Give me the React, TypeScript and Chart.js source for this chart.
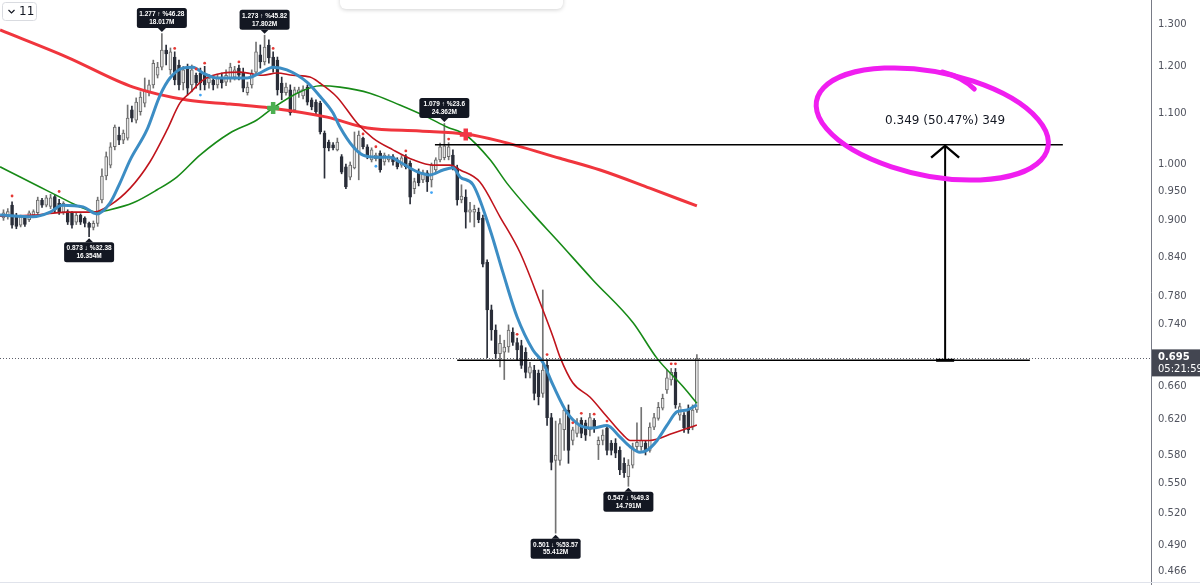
import React, { useEffect, useRef } from "react";
import { Chart, registerables } from "chart.js";

Chart.register(...registerables);

// ---- candle data (one per bar) ----
const opens = [
  0.904, 0.906, 0.926, 0.909, 0.892, 0.904, 0.901, 0.909, 0.913, 0.935,
  0.926, 0.924, 0.941, 0.929, 0.914, 0.915, 0.913, 0.897, 0.909, 0.904,
  0.895, 0.888, 0.895, 0.935, 0.978, 0.998, 1.033, 1.056, 1.046, 1.050,
  1.107, 1.086, 1.103, 1.121, 1.143, 1.160, 1.181, 1.199, 1.238, 1.193,
  1.222, 1.204, 1.164, 1.197, 1.160, 1.181, 1.186, 1.186, 1.164, 1.1705,
  1.160, 1.177, 1.166, 1.175, 1.177, 1.197, 1.186, 1.143, 1.160, 1.188,
  1.227, 1.211, 1.250, 1.222, 1.215, 1.164, 1.143, 1.149, 1.107, 1.143,
  1.136, 1.155, 1.128, 1.123, 1.121, 1.060, 1.042, 1.037, 1.027, 1.014,
  0.995, 0.976, 0.993, 1.021, 1.050, 1.033, 1.008, 1.010, 1.021, 1.004,
  1.008, 1.014, 1.008, 0.998, 1.014, 1.002, 0.955, 0.985, 0.971, 0.984,
  0.971, 0.989, 1.008, 1.012, 1.014, 1.017, 0.993, 0.935, 0.940, 0.914,
  0.914, 0.914, 0.904, 0.832, 0.761, 0.733, 0.701, 0.703, 0.710, 0.730,
  0.716, 0.712, 0.703, 0.676, 0.680, 0.676, 0.651, 0.686, 0.622, 0.574,
  0.574, 0.608, 0.631, 0.596, 0.604, 0.619, 0.616, 0.608, 0.619, 0.591,
  0.596, 0.610, 0.593, 0.593, 0.585, 0.571, 0.557, 0.569, 0.589, 0.589,
  0.593, 0.585, 0.611, 0.621, 0.633, 0.655, 0.6675, 0.677, 0.625, 0.625,
  0.631, 0.611, 0.631,
];
const highs = [
  0.918, 0.920, 0.932, 0.912, 0.909, 0.907, 0.916, 0.918, 0.940, 0.938,
  0.943, 0.945, 0.944, 0.936, 0.932, 0.918, 0.915, 0.913, 0.911, 0.906,
  0.897, 0.899, 0.940, 0.991, 1.023, 1.041, 1.076, 1.072, 1.066, 1.117,
  1.115, 1.132, 1.145, 1.175, 1.1705, 1.215, 1.210, 1.277, 1.250, 1.243,
  1.234, 1.215, 1.201, 1.206, 1.204, 1.186, 1.197, 1.201, 1.183, 1.179,
  1.183, 1.186, 1.193, 1.208, 1.201, 1.204, 1.197, 1.166, 1.193, 1.257,
  1.250, 1.273, 1.262, 1.234, 1.222, 1.177, 1.164, 1.160, 1.155, 1.155,
  1.158, 1.160, 1.132, 1.128, 1.125, 1.064, 1.046, 1.041, 1.050, 1.018,
  1.000, 1.004, 1.062, 1.064, 1.052, 1.037, 1.031, 1.021, 1.025, 1.021,
  1.018, 1.018, 1.012, 1.016, 1.018, 1.006, 0.974, 0.991, 0.989, 0.988,
  1.002, 1.012, 1.040, 1.079, 1.041, 1.027, 0.998, 0.962, 0.953, 0.931,
  0.926, 0.921, 0.909, 0.836, 0.768, 0.740, 0.726, 0.719, 0.740, 0.736,
  0.722, 0.719, 0.709, 0.690, 0.686, 0.680, 0.790, 0.693, 0.627, 0.618,
  0.621, 0.634, 0.637, 0.611, 0.621, 0.622, 0.619, 0.627, 0.621, 0.600,
  0.608, 0.613, 0.596, 0.598, 0.589, 0.577, 0.575, 0.593, 0.616, 0.634,
  0.596, 0.616, 0.627, 0.640, 0.650, 0.680, 0.682, 0.682, 0.639, 0.628,
  0.637, 0.637, 0.700,
];
const lows = [
  0.900, 0.902, 0.887, 0.886, 0.889, 0.890, 0.898, 0.906, 0.910, 0.922,
  0.923, 0.920, 0.913, 0.910, 0.910, 0.893, 0.887, 0.893, 0.893, 0.889,
  0.873, 0.884, 0.890, 0.930, 0.971, 0.993, 1.027, 1.037, 1.039, 1.046,
  1.082, 1.080, 1.096, 1.113, 1.136, 1.153, 1.175, 1.193, 1.204, 1.183,
  1.160, 1.149, 1.149, 1.138, 1.145, 1.153, 1.149, 1.149, 1.153, 1.149,
  1.153, 1.153, 1.158, 1.166, 1.1705, 1.1705, 1.145, 1.138, 1.153, 1.181,
  1.197, 1.204, 1.208, 1.188, 1.138, 1.128, 1.138, 1.096, 1.101, 1.133,
  1.130, 1.117, 1.107, 1.099, 1.058, 0.974, 1.025, 1.027, 1.025, 0.982,
  0.955, 0.971, 0.991, 0.971, 1.029, 1.010, 1.004, 1.006, 0.985, 0.998,
  1.004, 0.998, 0.991, 0.994, 0.991, 0.928, 0.946, 0.960, 0.966, 0.950,
  0.958, 0.985, 1.004, 1.008, 1.008, 0.989, 0.926, 0.930, 0.887, 0.897,
  0.889, 0.896, 0.825, 0.696, 0.719, 0.695, 0.684, 0.668, 0.703, 0.712,
  0.693, 0.682, 0.670, 0.670, 0.643, 0.637, 0.646, 0.613, 0.564, 0.501,
  0.569, 0.585, 0.571, 0.591, 0.600, 0.599, 0.596, 0.601, 0.605, 0.575,
  0.591, 0.580, 0.580, 0.577, 0.559, 0.556, 0.547, 0.566, 0.585, 0.585,
  0.580, 0.583, 0.608, 0.619, 0.631, 0.651, 0.661, 0.633, 0.619, 0.605,
  0.604, 0.608, 0.628,
];
const closes = [
  0.913, 0.915, 0.892, 0.890, 0.906, 0.893, 0.913, 0.915, 0.935, 0.926,
  0.939, 0.939, 0.918, 0.914, 0.929, 0.897, 0.892, 0.909, 0.897, 0.895,
  0.888, 0.895, 0.935, 0.978, 1.014, 1.033, 1.072, 1.046, 1.060, 1.090,
  1.090, 1.123, 1.134, 1.149, 1.160, 1.208, 1.199, 1.238, 1.229, 1.234,
  1.1705, 1.160, 1.193, 1.153, 1.193, 1.164, 1.164, 1.160, 1.175, 1.160,
  1.175, 1.164, 1.181, 1.199, 1.193, 1.181, 1.153, 1.155, 1.186, 1.234,
  1.211, 1.245, 1.220, 1.197, 1.149, 1.143, 1.155, 1.101, 1.149, 1.149,
  1.151, 1.123, 1.113, 1.103, 1.062, 1.031, 1.031, 1.031, 1.042, 0.985,
  0.958, 0.998, 1.033, 1.056, 1.033, 1.014, 1.027, 1.017, 0.989, 1.017,
  1.014, 1.004, 0.995, 1.012, 0.995, 0.940, 0.968, 0.966, 0.984, 0.967,
  0.998, 1.008, 1.033, 1.035, 1.033, 0.995, 0.935, 0.942, 0.914, 0.918,
  0.919, 0.901, 0.829, 0.761, 0.733, 0.701, 0.715, 0.710, 0.733, 0.716,
  0.706, 0.686, 0.677, 0.684, 0.651, 0.647, 0.680, 0.622, 0.572, 0.580,
  0.615, 0.631, 0.585, 0.608, 0.616, 0.604, 0.602, 0.622, 0.610, 0.596,
  0.602, 0.585, 0.585, 0.582, 0.564, 0.561, 0.569, 0.589, 0.594, 0.596,
  0.585, 0.611, 0.622, 0.634, 0.645, 0.670, 0.677, 0.637, 0.635, 0.610,
  0.608, 0.631, 0.695,
];

// ---- moving averages: [bar index, price] ----
const maBlue = [
  [-0.8, 0.909], [6.9, 0.906], [10.9, 0.914], [13.7, 0.926], [18.6, 0.923], [21.8, 0.911],
  [24.9, 0.930], [27.2, 0.965], [29.6, 1.008], [33.5, 1.066], [36.6, 1.138], [38.9, 1.175],
  [41.9, 1.197], [44.3, 1.199], [46.6, 1.186], [49.9, 1.175], [53.6, 1.175], [56.9, 1.175],
  [59.9, 1.186], [63, 1.199], [66.2, 1.193], [70.9, 1.166], [73.9, 1.136], [77, 1.1005],
  [78.6, 1.072], [81.7, 1.033], [84, 1.017], [87.3, 1.013], [90.3, 1.013], [92.6, 1.004],
  [96.6, 0.986], [99.6, 0.98], [102.7, 0.989], [105, 0.993], [106.7, 0.976], [109.7, 0.962],
  [113.7, 0.884], [116.7, 0.816], [120, 0.751], [123.7, 0.706], [126, 0.69], [128.4, 0.661],
  [131.7, 0.6275], [134.7, 0.613], [137.7, 0.61], [141, 0.613], [144, 0.6], [146.4, 0.589],
  [148.7, 0.583], [150.3, 0.585], [152.7, 0.596], [155, 0.613], [157.4, 0.629], [159.7, 0.631],
  [162, 0.637],
];
const maDarkRed = [
  [-0.8, 0.907], [6.9, 0.909], [14.8, 0.914], [20.9, 0.914], [24.9, 0.926], [29.6, 0.956],
  [34.2, 1.004], [38.2, 1.066], [41.2, 1.121], [43.6, 1.143], [46.6, 1.1705], [51.3, 1.186],
  [55.3, 1.188], [60.6, 1.181], [63.9, 1.186], [67.6, 1.181], [71.6, 1.177], [73.9, 1.164],
  [77.9, 1.134], [82.6, 1.08], [86.3, 1.05], [91, 1.027], [95.7, 1.008], [100.3, 0.998],
  [104.3, 0.998], [106.7, 0.989], [111.3, 0.967], [116, 0.906], [120.7, 0.847], [125.4, 0.771],
  [128.4, 0.7235], [130, 0.697], [133, 0.664], [137, 0.6465], [141, 0.623], [144.8, 0.602],
  [146.4, 0.596], [151, 0.596], [156.4, 0.604], [162, 0.6135],
];
const maGreen = [
  [-0.8, 0.995], [3.9, 0.976], [8.5, 0.958], [13.2, 0.94], [17.9, 0.923], [21.8, 0.914],
  [24.9, 0.918], [30.3, 0.93], [35.9, 0.953], [40.5, 0.976], [45.9, 1.017], [52.9, 1.06],
  [59.2, 1.086], [63, 1.111], [69.3, 1.145], [74, 1.158], [78.6, 1.155], [85.6, 1.142],
  [92.6, 1.117], [99, 1.092], [103.6, 1.072], [108, 1.056], [113.7, 1.008], [117.6, 0.965],
  [123.7, 0.911], [129.3, 0.8675], [137.7, 0.805], [147.1, 0.743], [152.7, 0.695],
  [158.8, 0.659], [162, 0.639],
];
const maLongRed = [
  [-0.8, 1.2855], [14.8, 1.222], [30.3, 1.155], [42.9, 1.1275], [52.9, 1.119], [62.3, 1.111],
  [75.6, 1.092], [85, 1.07], [97.3, 1.064], [108, 1.058], [116, 1.044], [130, 1.011],
  [139.4, 0.989], [151, 0.956], [162, 0.9246],
];

// ---- crosses and fractal dots ----
const crossGreen = [[63, 1.111]];
const crossRed = [[108, 1.057]];
const fractalHigh = [
  [2, 0.942], [13, 0.95], [40, 1.242], [45, 1.195], [47, 1.208], [55, 1.211], [63, 1.242],
  [84, 1.058], [87, 1.033], [94, 1.025], [104, 1.048], [120, 0.727], [127, 0.7], [133, 0.616],
  [135, 0.627], [138, 0.626], [141, 0.618], [156, 0.688], [157, 0.688],
];
const fractalLow = [[46, 1.138], [87, 0.996], [100, 0.948]];

// ---- high / low callouts ----
const markerIdx = [37, 61, 103, 20, 129, 146];
const markerSide = ["high", "high", "high", "low", "low", "low"];
const markerLine1 = ["1.277 ↑ %46.28", "1.273 ↑ %45.82", "1.079 ↑ %23.6", "0.873 ↓ %32.38", "0.501 ↓ %53.57", "0.547 ↓ %49.3"];
const markerLine2 = ["18.017M", "17.802M", "24.362M", "16.354M", "55.412M", "14.791M"];

// ---- axis / annotations ----
const yTicks = [1.3, 1.2, 1.1, 1.0, 0.95, 0.9, 0.84, 0.78, 0.74, 0.66, 0.62, 0.58, 0.55, 0.52, 0.49, 0.466];
const lastPrice = 0.695;
const countdown = "05:21:59";
const measureFrom = 0.6925;
const measureTo = 1.037;
const measureText = "0.349 (50.47%) 349";
const measureTopRange = [100.8, 247.5];
const measureBottomRange = [106, 239.8];
const measureArrowIdx = 220;
const circleCenter = [217, 1.078];
const intervalLabel = "11";

const X_MIN = -0.818;
const X_MAX = 268.1;
const Y_MIN = 0.4572;
const Y_MAX = 1.3598;

const overlayPlugin = {
  id: "overlay",
  beforeDatasetsDraw(chart: any) {
    const { ctx, scales, chartArea } = chart;
    const y = scales.y;
    const py = Math.round(y.getPixelForValue(lastPrice)) + 0.5;
    ctx.save();
    ctx.strokeStyle = "#5d606b";
    ctx.lineWidth = 1;
    ctx.setLineDash([1, 2]);
    ctx.beginPath();
    ctx.moveTo(chartArea.left, py);
    ctx.lineTo(chartArea.right, py);
    ctx.stroke();
    ctx.restore();
  },
  afterDatasetsDraw(chart: any) {
    const { ctx, scales } = chart;
    const x = scales.x;
    const y = scales.y;
    ctx.save();
    // measurement lines
    const yTop = y.getPixelForValue(measureTo);
    const yBot = y.getPixelForValue(measureFrom);
    ctx.strokeStyle = "#000";
    ctx.lineWidth = 1.6;
    ctx.beginPath();
    ctx.moveTo(x.getPixelForValue(measureTopRange[0]), yTop);
    ctx.lineTo(x.getPixelForValue(measureTopRange[1]), yTop);
    ctx.moveTo(x.getPixelForValue(measureBottomRange[0]), yBot);
    ctx.lineTo(x.getPixelForValue(measureBottomRange[1]), yBot);
    ctx.stroke();
    const ax = x.getPixelForValue(measureArrowIdx);
    ctx.lineWidth = 2;
    ctx.beginPath();
    ctx.moveTo(ax, yBot);
    ctx.lineTo(ax, yTop + 1);
    ctx.stroke();
    ctx.lineWidth = 2.4;
    ctx.beginPath();
    ctx.moveTo(ax - 14, yTop + 13);
    ctx.lineTo(ax, yTop + 1);
    ctx.lineTo(ax + 14, yTop + 13);
    ctx.stroke();
    ctx.lineWidth = 3;
    ctx.beginPath();
    ctx.moveTo(ax - 9, yBot);
    ctx.lineTo(ax + 9, yBot);
    ctx.stroke();
    ctx.fillStyle = "#131722";
    ctx.font = '12px "DejaVu Sans", sans-serif';
    ctx.textAlign = "center";
    ctx.textBaseline = "middle";
    ctx.fillText(measureText, ax, yTop - 24);

    // magenta hand-drawn circle
    const cx = x.getPixelForValue(circleCenter[0]);
    const cy = y.getPixelForValue(circleCenter[1]);
    ctx.strokeStyle = "#f01ef0";
    ctx.lineWidth = 5;
    ctx.lineCap = "round";
    ctx.beginPath();
    ctx.ellipse(cx, cy, 118, 52, 0.2, -1.3, -1.3 + Math.PI * 2 + 0.2);
    ctx.stroke();
    ctx.beginPath();
    ctx.moveTo(cx + 42, cy - 35);
    ctx.quadraticCurveTo(cx + 30, cy - 47, cx + 10, cy - 52);
    ctx.stroke();
    ctx.lineCap = "butt";

    // high / low callouts
    markerIdx.forEach((mi, k) => {
      const px = x.getPixelForValue(mi);
      const isHigh = markerSide[k] === "high";
      const pv = y.getPixelForValue(isHigh ? highs[mi] : lows[mi]);
      const w = 50, h = 20, tri = 4;
      let top: number, tipY: number, baseY: number;
      if (isHigh) { tipY = pv - 1.5; baseY = tipY - tri; top = baseY - h; }
      else { tipY = pv + 1.5; baseY = tipY + tri; top = baseY; }
      ctx.fillStyle = "#131722";
      ctx.beginPath();
      ctx.roundRect(px - w / 2, top, w, h, 2.5);
      ctx.fill();
      ctx.beginPath();
      ctx.moveTo(px - tri, baseY);
      ctx.lineTo(px + tri, baseY);
      ctx.lineTo(px, tipY);
      ctx.closePath();
      ctx.fill();
      ctx.fillStyle = "#ffffff";
      ctx.font = 'bold 6.5px "Liberation Sans", Arial, sans-serif';
      ctx.textAlign = "center";
      ctx.textBaseline = "middle";
      ctx.fillText(markerLine1[k], px, top + 6.5);
      ctx.fillText(markerLine2[k], px, top + 14);
    });
    ctx.restore();
  },
  afterDraw(chart: any) {
    const { ctx, scales, chartArea, width, height } = chart;
    const y = scales.y;
    ctx.save();
    // axis line and bottom line
    ctx.strokeStyle = "#787b86";
    ctx.lineWidth = 1;
    ctx.beginPath();
    ctx.moveTo(chartArea.right + 0.5, 0);
    ctx.lineTo(chartArea.right + 0.5, height);
    ctx.stroke();
    ctx.strokeStyle = "#e0e3eb";
    ctx.beginPath();
    ctx.moveTo(0, chartArea.bottom + 0.5);
    ctx.lineTo(width, chartArea.bottom + 0.5);
    ctx.stroke();

    // price axis labels
    ctx.fillStyle = "#50535e";
    ctx.font = '10px "DejaVu Sans", sans-serif';
    ctx.textAlign = "left";
    ctx.textBaseline = "middle";
    yTicks.forEach((v) => {
      ctx.fillText(v.toFixed(3), chartArea.right + 7, y.getPixelForValue(v));
    });

    // last price label
    const py = y.getPixelForValue(lastPrice);
    ctx.fillStyle = "#434651";
    ctx.fillRect(chartArea.right + 1, py - 9, width - chartArea.right - 1, 27);
    ctx.fillStyle = "#ffffff";
    ctx.font = 'bold 10px "DejaVu Sans", sans-serif';
    ctx.fillText(lastPrice.toFixed(3), chartArea.right + 7, py - 1);
    ctx.font = '10px "DejaVu Sans", sans-serif';
    ctx.fillText(countdown, chartArea.right + 7, py + 11);

    // interval box top-left
    ctx.fillStyle = "#ffffff";
    ctx.strokeStyle = "#d9dbe0";
    ctx.beginPath();
    ctx.roundRect(2.5, 2.5, 34, 18, 3);
    ctx.fill();
    ctx.stroke();
    ctx.strokeStyle = "#131722";
    ctx.lineWidth = 1.2;
    ctx.beginPath();
    ctx.moveTo(8.5, 10);
    ctx.lineTo(11.5, 13);
    ctx.lineTo(14.5, 10);
    ctx.stroke();
    ctx.fillStyle = "#131722";
    ctx.font = '12px "DejaVu Sans", sans-serif';
    ctx.fillText(intervalLabel, 19, 11.5);

    // toolbar stub at top
    ctx.shadowColor = "rgba(0,0,0,0.18)";
    ctx.shadowBlur = 4;
    ctx.shadowOffsetY = 1;
    ctx.fillStyle = "#ffffff";
    ctx.beginPath();
    ctx.roundRect(340, -10, 223, 19, 6);
    ctx.fill();
    ctx.restore();
  },
};

export default function App() {
  const ref = useRef<HTMLCanvasElement>(null);
  useEffect(() => {
    const canvas = ref.current as HTMLCanvasElement;
    const ids = opens.map((_, i) => i);
    const up = ids.map((i) => closes[i] >= opens[i]);
    const toPts = (arr: number[][]) => arr.map((p) => ({ x: p[0], y: p[1] }));
    const lineDs = (arr: number[][], color: string, w: number, order: number) => ({
      type: "line",
      data: toPts(arr),
      borderColor: color,
      borderWidth: w,
      pointRadius: 0,
      fill: false,
      cubicInterpolationMode: "monotone",
      order,
    });
    const chart = new Chart(canvas, {
      type: "bar",
      data: {
        datasets: [
          {
            type: "bar",
            data: ids.map((i) => ({ x: i, y: [lows[i], highs[i]] })),
            backgroundColor: ids.map((i) => (up[i] ? "#737373" : "#2a2e39")),
            borderWidth: 0,
            barThickness: 1,
            grouped: false,
            order: 11,
          },
          {
            type: "bar",
            data: ids.map((i) => ({ x: i, y: [opens[i], closes[i]] })),
            backgroundColor: ids.map((i) => (up[i] ? "#e6e6e6" : "#2a2e39")),
            borderColor: ids.map((i) => (up[i] ? "#6a6a6a" : "#2a2e39")),
            borderWidth: 1,
            borderSkipped: false,
            barThickness: 3,
            grouped: false,
            order: 10,
          },
          lineDs(maLongRed, "#f0353d", 3, 5),
          lineDs(maGreen, "#178a17", 1.6, 4),
          lineDs(maDarkRed, "#c0141c", 1.6, 3),
          lineDs(maBlue, "#3c8dc4", 3, 2),
          {
            type: "scatter",
            data: toPts(fractalHigh),
            pointRadius: 1.4,
            pointBackgroundColor: "#e53935",
            pointBorderWidth: 0,
            order: 1,
          },
          {
            type: "scatter",
            data: toPts(fractalLow),
            pointRadius: 1.4,
            pointBackgroundColor: "#42a5f5",
            pointBorderWidth: 0,
            order: 1,
          },
          {
            type: "scatter",
            data: toPts(crossGreen),
            pointStyle: "cross",
            pointRadius: 6,
            pointBorderWidth: 4.5,
            pointBorderColor: "#4caf50",
            order: 0,
          },
          {
            type: "scatter",
            data: toPts(crossRed),
            pointStyle: "cross",
            pointRadius: 6,
            pointBorderWidth: 4.5,
            pointBorderColor: "#f23645",
            order: 0,
          },
        ] as any,
      },
      options: {
        animation: false,
        responsive: false,
        maintainAspectRatio: false,
        events: [],
        layout: { autoPadding: false, padding: { left: 0, right: 0, top: 0, bottom: 3 } },
        plugins: { legend: { display: false }, tooltip: { enabled: false } },
        scales: {
          x: {
            type: "linear",
            min: X_MIN,
            max: X_MAX,
            offset: false,
            display: false,
            grid: { display: false, drawTicks: false },
            ticks: { display: false },
            afterFit: (s: any) => {
              s.height = 0;
              s.paddingLeft = 0;
              s.paddingRight = 0;
              s.paddingTop = 0;
              s.paddingBottom = 0;
            },
          },
          y: {
            type: "logarithmic",
            position: "right",
            min: Y_MIN,
            max: Y_MAX,
            bounds: "data",
            grid: { display: false, drawTicks: false },
            border: { display: false },
            ticks: { display: false },
            afterFit: (s: any) => {
              s.width = 49;
              s.paddingTop = 0;
              s.paddingBottom = 0;
              s.paddingLeft = 0;
              s.paddingRight = 0;
            },
          },
        },
      } as any,
      plugins: [overlayPlugin],
    } as any);
    return () => chart.destroy();
  }, []);
  return (
    <div style={{ position: "absolute", left: 0, top: 0, width: 1200, height: 585, background: "#fff" }}>
      <canvas ref={ref} width={1200} height={585} style={{ display: "block" }} />
    </div>
  );
}
